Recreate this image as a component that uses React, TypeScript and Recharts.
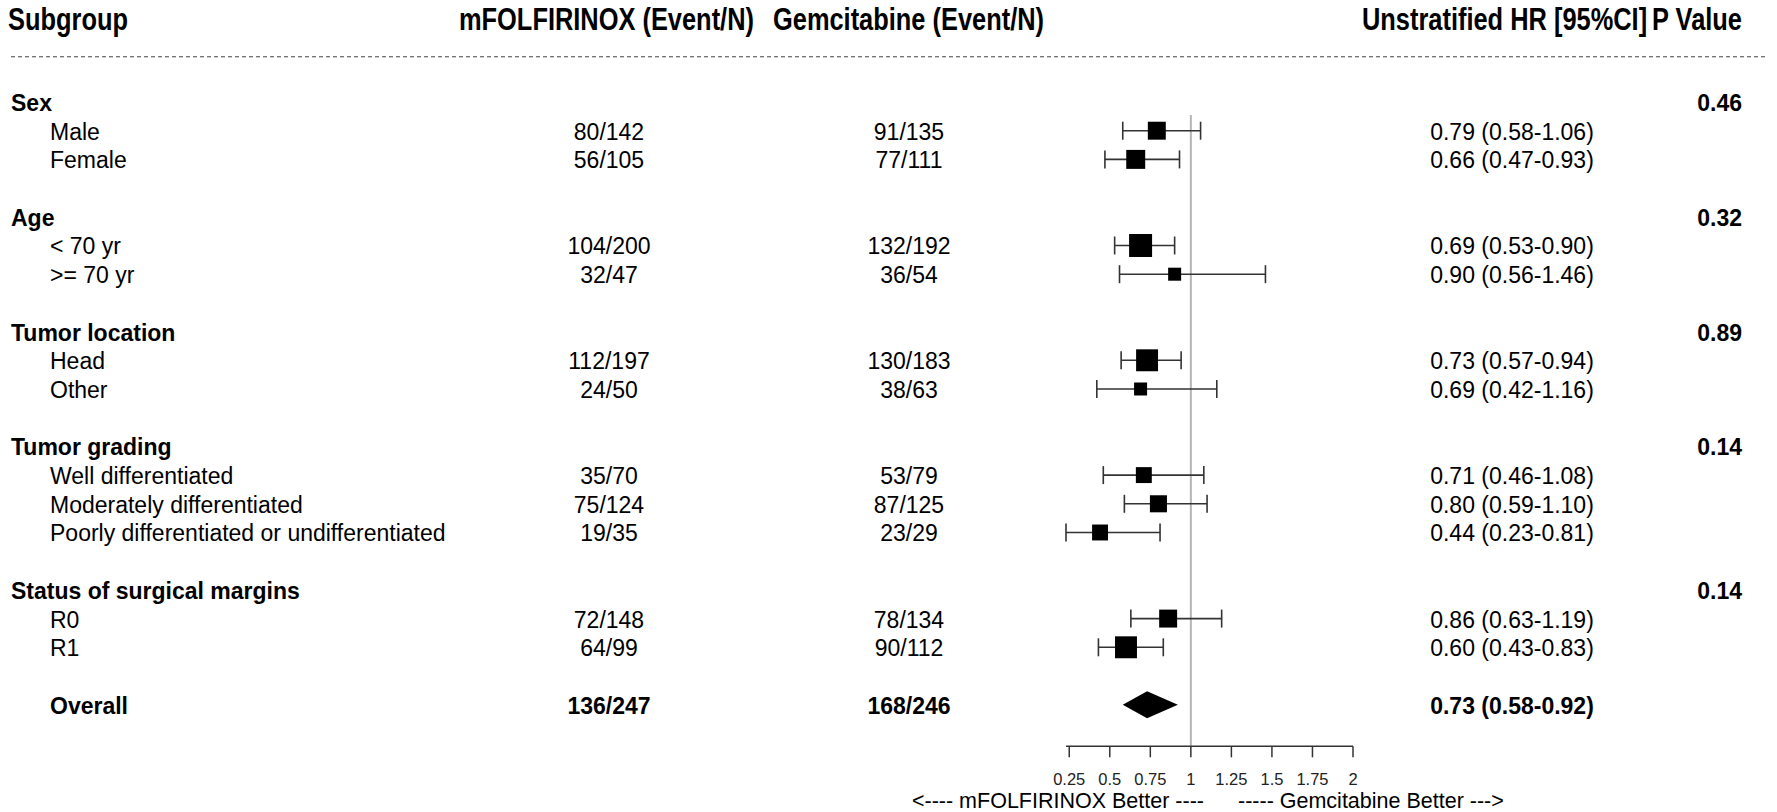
import React from 'react';
import { ComposedChart, Scatter, XAxis, YAxis, ZAxis, ErrorBar, ReferenceLine, ReferenceArea } from 'recharts';

// subgroups, grouped by factor
const groupNames = ['Sex', 'Age', 'Tumor location', 'Tumor grading', 'Status of surgical margins'];
const groupSizes = [2, 2, 2, 3, 2];
const groupPValues = ['0.46', '0.32', '0.89', '0.14', '0.14'];

const subgroupNames = [
  'Male', 'Female',
  '< 70 yr', '>= 70 yr',
  'Head', 'Other',
  'Well differentiated', 'Moderately differentiated', 'Poorly differentiated or undifferentiated',
  'R0', 'R1',
];
const mfolfEvents = [80, 56, 104, 32, 112, 24, 35, 75, 19, 72, 64];
const mfolfN = [142, 105, 200, 47, 197, 50, 70, 124, 35, 148, 99];
const gemEvents = [91, 77, 132, 36, 130, 38, 53, 87, 23, 78, 90];
const gemN = [135, 111, 192, 54, 183, 63, 79, 125, 29, 134, 112];
const hr = [0.79, 0.66, 0.69, 0.90, 0.73, 0.69, 0.71, 0.80, 0.44, 0.86, 0.60];
const hrLow = [0.58, 0.47, 0.53, 0.56, 0.57, 0.42, 0.46, 0.59, 0.23, 0.63, 0.43];
const hrHigh = [1.06, 0.93, 0.90, 1.46, 0.94, 1.16, 1.08, 1.10, 0.81, 1.19, 0.83];
// relative weight (box area)
const weight = [61, 68, 100, 32, 91, 32, 48, 55, 48, 61, 91];

const overallEvents = [136, 168];
const overallN = [247, 246];
const overallHr = [0.73, 0.58, 0.92];

const xTicks = [0.25, 0.5, 0.75, 1, 1.25, 1.5, 1.75, 2];

const FONT = '"Liberation Sans", Arial, sans-serif';
const HEADER_ROW = -2.9;
const COL_A = 609;
const COL_B = 909;
const COL_HR = 1512;
const COL_P = 1742;

const fmtCI = (h: number, l: number, u: number) => `${h.toFixed(2)} (${l.toFixed(2)}-${u.toFixed(2)})`;

type Row = { y: number; kind: 'group' | 'sub' | 'overall'; label: string; p?: string; a?: string; b?: string; ci?: string };

const rows: Row[] = [];
const points: { x: number; y: number; z: number; err: number[] }[] = [];
let r = 0;
let s = 0;
groupNames.forEach((g, gi) => {
  rows.push({ y: r++, kind: 'group', label: g, p: groupPValues[gi] });
  for (let k = 0; k < groupSizes[gi]; k++, s++) {
    rows.push({
      y: r,
      kind: 'sub',
      label: subgroupNames[s],
      a: `${mfolfEvents[s]}/${mfolfN[s]}`,
      b: `${gemEvents[s]}/${gemN[s]}`,
      ci: fmtCI(hr[s], hrLow[s], hrHigh[s]),
    });
    points.push({ x: hr[s], y: r, z: weight[s], err: [hr[s] - hrLow[s], hrHigh[s] - hr[s]] });
    r++;
  }
  r++;
});
const overallRow = r;
rows.push({
  y: overallRow,
  kind: 'overall',
  label: 'Overall',
  a: `${overallEvents[0]}/${overallN[0]}`,
  b: `${overallEvents[1]}/${overallN[1]}`,
  ci: fmtCI(overallHr[0], overallHr[1], overallHr[2]),
});

const rowTicks = [HEADER_ROW, ...rows.map((row) => row.y)];

const narrow = (x: number, y: number, text: string, anchor = 'start') => (
  <text
    transform={`translate(${x},${y}) scale(0.82,1)`}
    textAnchor={anchor}
    fontFamily={FONT}
    fontWeight="bold"
    fontSize={31}
    fill="#000"
  >
    {text}
  </text>
);

const RowTick = (props: any) => {
  const { y, payload } = props;
  const v = Number(payload.value);
  if (Math.abs(v - HEADER_ROW) < 1e-6) {
    const base = y + 11;
    return (
      <g>
        {narrow(8, base, 'Subgroup')}
        {narrow(459, base, 'mFOLFIRINOX (Event/N)')}
        {narrow(773, base, 'Gemcitabine (Event/N)')}
        {narrow(1362, base, 'Unstratified HR [95%CI]')}
        {narrow(COL_P, base, 'P Value', 'end')}
        <line x1={11} x2={1766} y1={y + 38} y2={y + 38} stroke="#444" strokeWidth={1} strokeDasharray="4 3" />
      </g>
    );
  }
  const row = rows.find((rr) => Math.abs(rr.y - v) < 1e-6);
  if (!row) return null;
  const base = y + 9;
  const common = { fontFamily: FONT, fontSize: 23, fill: '#000' };
  if (row.kind === 'group') {
    return (
      <g>
        <text x={11} y={base} {...common} fontWeight="bold">{row.label}</text>
        <text x={COL_P} y={base} {...common} fontWeight="bold" textAnchor="end">{row.p}</text>
      </g>
    );
  }
  const bold = row.kind === 'overall' ? 'bold' : 'normal';
  return (
    <g>
      <text x={50} y={base} {...common} fontWeight={bold}>{row.label}</text>
      <text x={COL_A} y={base} {...common} fontWeight={bold} textAnchor="middle">{row.a}</text>
      <text x={COL_B} y={base} {...common} fontWeight={bold} textAnchor="middle">{row.b}</text>
      <text x={COL_HR} y={base} {...common} fontWeight={bold} textAnchor="middle">{row.ci}</text>
    </g>
  );
};

const BetterLabel = (props: any) => {
  const vb = props.viewBox || { x: 1066, y: 746, width: 287 };
  const x1 = vb.x + (vb.width * (1 - xTicks[0])) / (xTicks[xTicks.length - 1] - xTicks[0]);
  const base = vb.y + 62;
  return (
    <g>
      <text x={x1 + 15} y={base} textAnchor="end" fontFamily={FONT} fontSize={21.5} fill="#000">
        {'<---- mFOLFIRINOX Better ----'}
      </text>
      <text x={x1 + 49} y={base} textAnchor="start" fontFamily={FONT} fontSize={21.5} fill="#000">
        {'----- Gemcitabine Better --->'}
      </text>
    </g>
  );
};

const Box = (props: any) => {
  const { cx, cy, width } = props;
  const side = width || 14;
  return <rect x={cx - side / 2} y={cy - side / 2} width={side} height={side} fill="#000" />;
};

const Diamond = (props: any) => {
  const { x, y, width, height } = props;
  const cx = x + (width * (overallHr[0] - overallHr[1])) / (overallHr[2] - overallHr[1]);
  const cy = y + height / 2;
  return <polygon points={`${x},${cy} ${cx},${y} ${x + width},${cy} ${cx},${y + height}`} fill="#000" />;
};

export default function App() {
  return (
    <div style={{ position: 'absolute', left: 0, top: 0, width: 1777, height: 812, background: '#fff' }}>
      <ComposedChart
        width={1777}
        height={812}
        data={points}
        margin={{ top: 1.55, right: 424, bottom: 35.7, left: 1065 }}
      >
        <XAxis
          type="number"
          dataKey="x"
          domain={[0.25, 2]}
          ticks={xTicks}
          interval={0}
          height={30}
          tickSize={11}
          tickMargin={16}
          axisLine={{ stroke: '#333', strokeWidth: 1.5 }}
          tickLine={{ stroke: '#333', strokeWidth: 1.5 }}
          tick={{ fill: '#222', fontSize: 16.5, fontFamily: FONT }}
          tickFormatter={(v: number) => String(v)}
          label={{ content: (p: any) => <BetterLabel {...p} /> }}
        />
        <YAxis
          type="number"
          dataKey="y"
          domain={[-3.5, 22.45]}
          reversed
          width={1}
          ticks={rowTicks}
          interval={0}
          axisLine={false}
          tickLine={false}
          tick={<RowTick />}
        />
        <ZAxis type="number" dataKey="z" domain={[0, 100]} range={[0, 415]} />
        <ReferenceLine
          segment={[{ x: 1, y: 0.45 }, { x: 1, y: 22.45 }]}
          stroke="#b5b5b5"
          strokeWidth={2}
        />
        <Scatter data={points} isAnimationActive={false} shape={<Box />}>
          <ErrorBar dataKey="err" direction="x" width={9} stroke="#333" strokeWidth={1.6} isAnimationActive={false} />
        </Scatter>
        <ReferenceArea
          x1={overallHr[1]}
          x2={overallHr[2]}
          y1={overallRow - 0.47}
          y2={overallRow + 0.47}
          shape={<Diamond />}
        />
      </ComposedChart>
    </div>
  );
}
